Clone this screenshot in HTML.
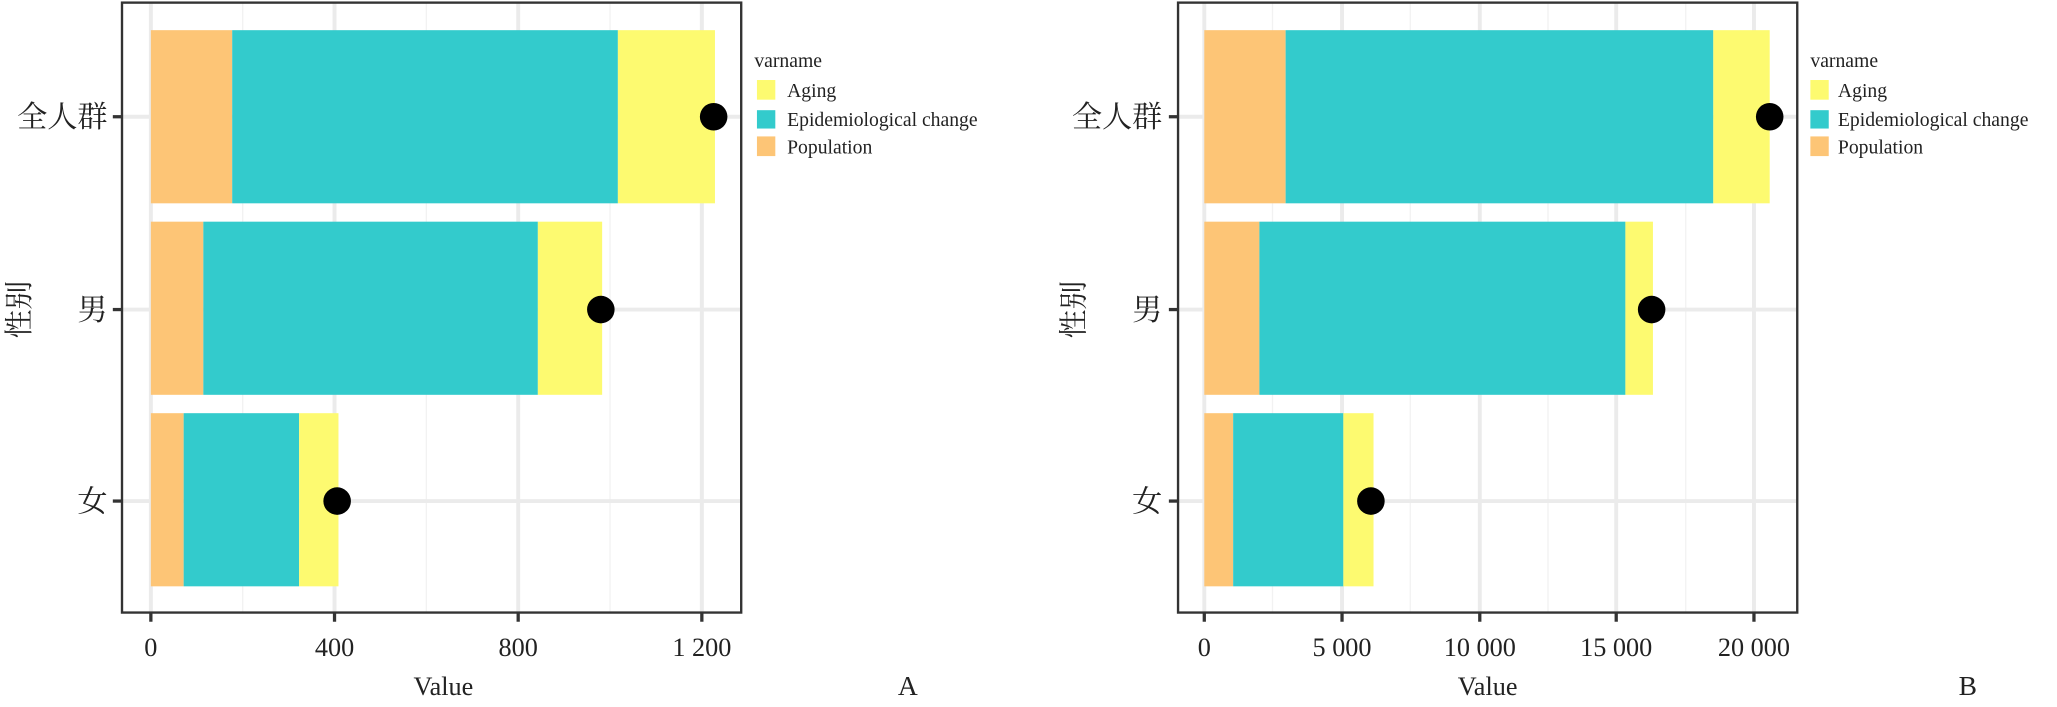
<!DOCTYPE html>
<html><head><meta charset="utf-8"><style>
html,body{margin:0;padding:0;background:#fff;}
svg{display:block;}
text{font-family:"Liberation Serif","Noto Serif CJK SC",serif;fill:#222;}
</style></head><body>
<svg width="2057" height="707" viewBox="0 0 1568 539" preserveAspectRatio="none" xmlns="http://www.w3.org/2000/svg">
<rect width="1568" height="539" fill="#fff"/>
<!-- Panel A -->
<g>
<g stroke="#f2f2f2" stroke-width="1">
<line x1="185" y1="2" x2="185" y2="467"/><line x1="325" y1="2" x2="325" y2="467"/><line x1="465" y1="2" x2="465" y2="467"/>
</g>
<g stroke="#ebebeb" stroke-width="3">
<line x1="115" y1="2" x2="115" y2="467"/><line x1="255" y1="2" x2="255" y2="467"/><line x1="395" y1="2" x2="395" y2="467"/><line x1="535" y1="2" x2="535" y2="467"/>
<line x1="93" y1="89" x2="565" y2="89"/><line x1="93" y1="236" x2="565" y2="236"/><line x1="93" y1="382" x2="565" y2="382"/>
</g>
<rect x="115" y="23" width="62" height="132" fill="#fdc576"/>
<rect x="177" y="23" width="294" height="132" fill="#33cbcc"/>
<rect x="471" y="23" width="74" height="132" fill="#fdfa70"/>
<rect x="115" y="169" width="40" height="132" fill="#fdc576"/>
<rect x="155" y="169" width="255" height="132" fill="#33cbcc"/>
<rect x="410" y="169" width="49" height="132" fill="#fdfa70"/>
<rect x="115" y="315" width="25" height="132" fill="#fdc576"/>
<rect x="140" y="315" width="88" height="132" fill="#33cbcc"/>
<rect x="228" y="315" width="30" height="132" fill="#fdfa70"/>
<circle cx="544" cy="89" r="10.5" fill="#000"/>
<circle cx="458" cy="236" r="10.5" fill="#000"/>
<circle cx="257" cy="382" r="10.5" fill="#000"/>
<rect x="93" y="2" width="472" height="465" fill="none" stroke="#333" stroke-width="1.8"/>
<g stroke="#333" stroke-width="2.5">
<line x1="86" y1="89" x2="93" y2="89"/><line x1="86" y1="236" x2="93" y2="236"/><line x1="86" y1="382" x2="93" y2="382"/>
<line x1="115" y1="467" x2="115" y2="474"/><line x1="255" y1="467" x2="255" y2="474"/><line x1="395" y1="467" x2="395" y2="474"/><line x1="535" y1="467" x2="535" y2="474"/>
</g>
<g font-size="23" text-anchor="end">
<text x="82" y="97">全人群</text><text x="82" y="244">男</text><text x="82" y="390">女</text>
</g>
<g font-size="20" text-anchor="middle">
<text x="115" y="500">0</text><text x="255" y="500">400</text><text x="395" y="500">800</text><text x="535" y="500">1 200</text>
<text x="338" y="530">Value</text>
</g>
<text font-size="22" text-anchor="middle" transform="translate(22,236) rotate(-90)">性别</text>
<text x="575" y="51" font-size="15">varname</text>
<rect x="577" y="61" width="14" height="15" fill="#fdfa70"/>
<rect x="577" y="84" width="14" height="14" fill="#33cbcc"/>
<rect x="577" y="104" width="14" height="15" fill="#fdc576"/>
<g font-size="15"><text x="600" y="74">Aging</text><text x="600" y="96">Epidemiological change</text><text x="600" y="117">Population</text></g>
<text x="692" y="530" font-size="21" font-family="Liberation Sans,sans-serif" text-anchor="middle">A</text>
</g>
<!-- Panel B -->
<g>
<g stroke="#f2f2f2" stroke-width="1">
<line x1="970" y1="2" x2="970" y2="467"/><line x1="1075" y1="2" x2="1075" y2="467"/><line x1="1180" y1="2" x2="1180" y2="467"/><line x1="1285" y1="2" x2="1285" y2="467"/>
</g>
<g stroke="#ebebeb" stroke-width="3">
<line x1="918" y1="2" x2="918" y2="467"/><line x1="1023" y1="2" x2="1023" y2="467"/><line x1="1128" y1="2" x2="1128" y2="467"/><line x1="1232" y1="2" x2="1232" y2="467"/><line x1="1337" y1="2" x2="1337" y2="467"/>
<line x1="898" y1="89" x2="1370" y2="89"/><line x1="898" y1="236" x2="1370" y2="236"/><line x1="898" y1="382" x2="1370" y2="382"/>
</g>
<rect x="918" y="23" width="62" height="132" fill="#fdc576"/>
<rect x="980" y="23" width="326" height="132" fill="#33cbcc"/>
<rect x="1306" y="23" width="43" height="132" fill="#fdfa70"/>
<rect x="918" y="169" width="42" height="132" fill="#fdc576"/>
<rect x="960" y="169" width="279" height="132" fill="#33cbcc"/>
<rect x="1239" y="169" width="21" height="132" fill="#fdfa70"/>
<rect x="918" y="315" width="22" height="132" fill="#fdc576"/>
<rect x="940" y="315" width="84" height="132" fill="#33cbcc"/>
<rect x="1024" y="315" width="23" height="132" fill="#fdfa70"/>
<circle cx="1349" cy="89" r="10.5" fill="#000"/>
<circle cx="1259" cy="236" r="10.5" fill="#000"/>
<circle cx="1045" cy="382" r="10.5" fill="#000"/>
<rect x="898" y="2" width="472" height="465" fill="none" stroke="#333" stroke-width="1.8"/>
<g stroke="#333" stroke-width="2.5">
<line x1="891" y1="89" x2="898" y2="89"/><line x1="891" y1="236" x2="898" y2="236"/><line x1="891" y1="382" x2="898" y2="382"/>
<line x1="918" y1="467" x2="918" y2="474"/><line x1="1023" y1="467" x2="1023" y2="474"/><line x1="1128" y1="467" x2="1128" y2="474"/><line x1="1232" y1="467" x2="1232" y2="474"/><line x1="1337" y1="467" x2="1337" y2="474"/>
</g>
<g font-size="23" text-anchor="end">
<text x="886" y="97">全人群</text><text x="886" y="244">男</text><text x="886" y="390">女</text>
</g>
<g font-size="20" text-anchor="middle">
<text x="918" y="500">0</text><text x="1023" y="500">5 000</text><text x="1128" y="500">10 000</text><text x="1232" y="500">15 000</text><text x="1337" y="500">20 000</text>
<text x="1134" y="530">Value</text>
</g>
<text font-size="22" text-anchor="middle" transform="translate(826,236) rotate(-90)">性别</text>
<text x="1380" y="51" font-size="15">varname</text>
<rect x="1380" y="61" width="14" height="15" fill="#fdfa70"/>
<rect x="1380" y="84" width="14" height="14" fill="#33cbcc"/>
<rect x="1380" y="104" width="14" height="15" fill="#fdc576"/>
<g font-size="15"><text x="1401" y="74">Aging</text><text x="1401" y="96">Epidemiological change</text><text x="1401" y="117">Population</text></g>
<text x="1500" y="530" font-size="21" font-family="Liberation Sans,sans-serif" text-anchor="middle">B</text>
</g>
</svg>
</body></html>
